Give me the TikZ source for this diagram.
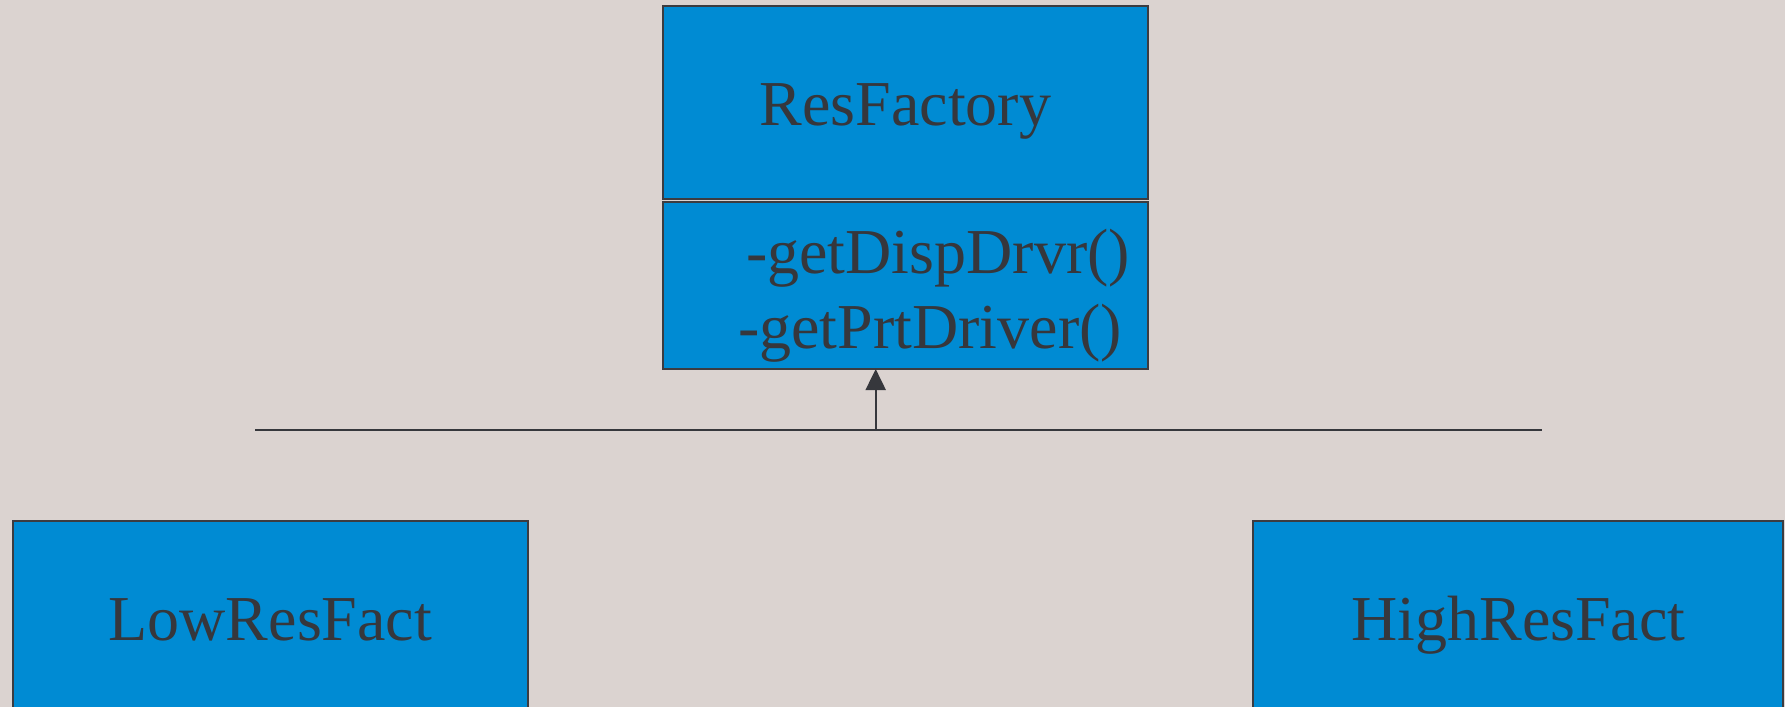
\documentclass[tikz,border=0pt]{standalone}
\usepackage{fontspec}
\setmainfont{Liberation Serif}
\usetikzlibrary{arrows.meta}
\definecolor{bgpaper}{HTML}{DBD3D0}
\definecolor{boxblue}{HTML}{008BD3}
\definecolor{inkgray}{HTML}{36373C}
\definecolor{edgegray}{HTML}{3C3C40}
\tikzset{
  classbox/.style={draw=edgegray, line width=1pt, fill=boxblue, inner sep=0pt},
  classtext/.style={text=inkgray, inner sep=0pt, anchor=base,
    font=\fontsize{32}{38}\selectfont},
  link/.style={draw=inkgray, line width=1pt},
}
\begin{document}
\begin{tikzpicture}[x=0.5pt, y=-0.5pt]
  \path[use as bounding box, fill=bgpaper] (0,0) rectangle (1785,707);
  \clip (0,0) rectangle (1785,707);

  % abstract factory: name compartment and operations compartment
  \path[classbox] (663.3,6) rectangle (1148.3,199);
  \node[classtext] (rfname) at (905.5,125) {ResFactory};
  \path[classbox] (663.3,202.3) rectangle (1148.3,369);
  \coordinate (rfbottom) at (905.8,369);
  \node[classtext] (op1) at (938,273) {-getDispDrvr()};
  \node[classtext] (op2) at (930,348) {-getPrtDriver()};

  % concrete factories
  \path[classbox] (12.9,521.4) rectangle (527.9,730);
  \node[classtext] (low) at (270.4,640) {LowResFact};
  \path[classbox] (1253.4,521) rectangle (1783,730);
  \node[classtext] (high) at (1518.5,640) {HighResFact};

  % generalisation bus with arrow into the base class
  \coordinate (busl) at (255,430);
  \coordinate (busr) at (1541.7,430);
  \coordinate (hub) at (875.7,430);
  \draw[link] (busl) -- (busr);
  \draw[link, -{Triangle[width=10pt,length=10.5pt]}, fill=inkgray]
    (hub) -- (hub |- rfbottom);
\end{tikzpicture}
\end{document}
